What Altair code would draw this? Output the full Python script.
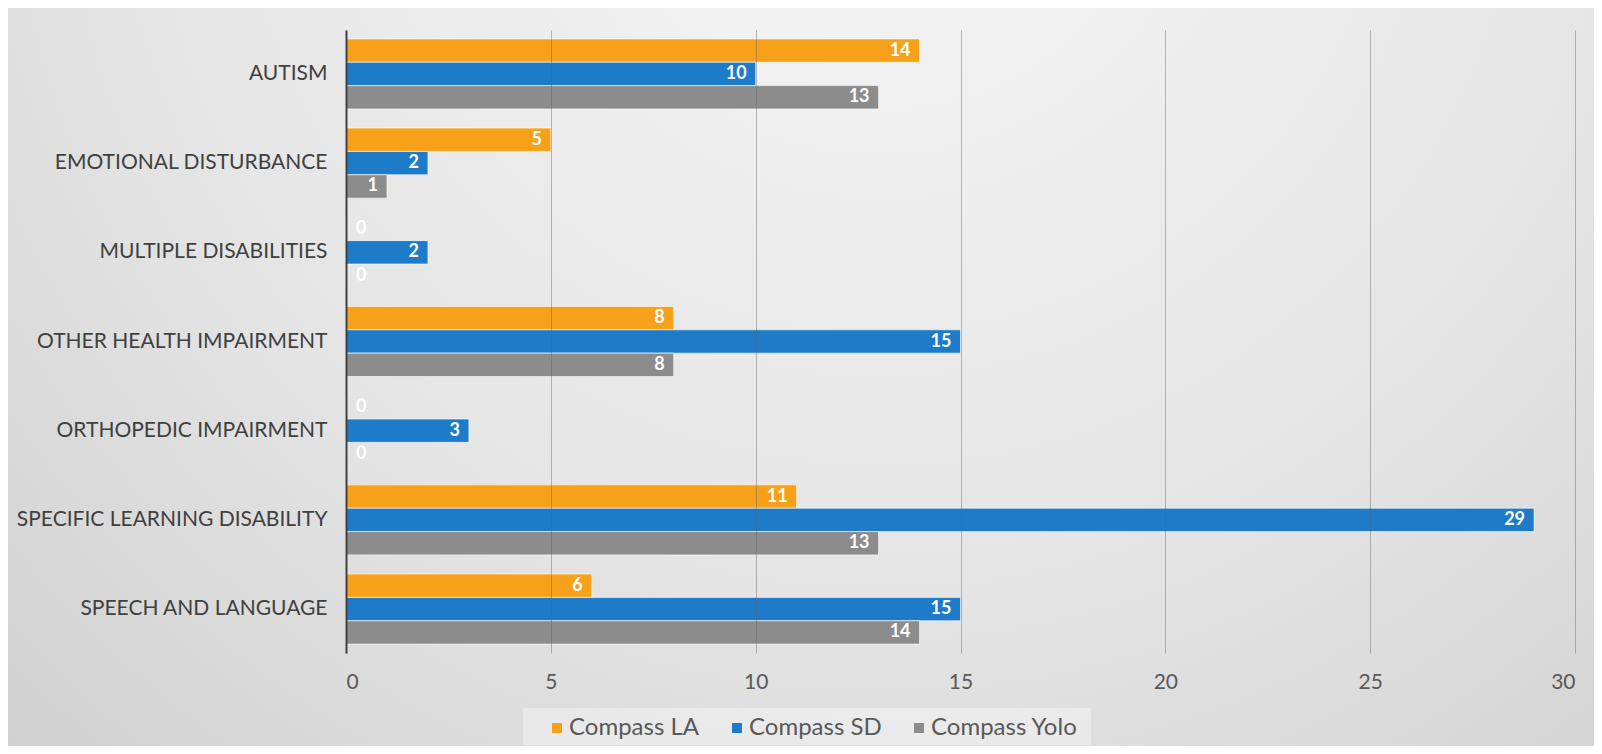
import altair as alt
import pandas as pd

categories = [
    "AUTISM",
    "EMOTIONAL DISTURBANCE",
    "MULTIPLE DISABILITIES",
    "OTHER HEALTH IMPAIRMENT",
    "ORTHOPEDIC IMPAIRMENT",
    "SPECIFIC LEARNING DISABILITY",
    "SPEECH AND LANGUAGE",
]
series = ["Compass LA", "Compass SD", "Compass Yolo"]
compass_la = [14, 5, 0, 8, 0, 11, 6]
compass_sd = [10, 2, 2, 15, 3, 29, 15]
compass_yolo = [13, 1, 0, 8, 0, 13, 14]
colors = ["#F7A11A", "#1D7BC9", "#8C8C8C"]
x_ticks = [0, 5, 10, 15, 20, 25, 30]

rows = []
for i, c in enumerate(categories):
    for s, vals in zip(series, [compass_la, compass_sd, compass_yolo]):
        rows.append({"category": c, "series": s, "value": vals[i]})
df = pd.DataFrame(rows)

W, H = 1229, 623
PL, PT, PR, PB = 338, 22, 19, 93

y_enc = alt.Y(
    "category:N",
    sort=categories,
    scale=alt.Scale(paddingInner=0.215, paddingOuter=0.1),
    axis=alt.Axis(
        title=None, labelFont="Lato", labelFontSize=21, labelColor="#404040",
        labelPadding=19, ticks=False, domain=True, domainColor="#404040",
        domainWidth=2, grid=False, labelLimit=500, zindex=1,
    ),
)
yoff = alt.YOffset("series:N", sort=series)
x_enc = alt.X(
    "value:Q",
    scale=alt.Scale(domain=[0, 30], nice=False),
    axis=alt.Axis(
        title=None, values=x_ticks, grid=True, gridColor="#606060",
        gridOpacity=0.42, gridWidth=1, domain=False, ticks=False,
        labelFont="Lato", labelFontSize=21, labelColor="#595959",
        labelPadding=18, zindex=1,
    ),
)

bg = alt.Chart(pd.DataFrame({"k": [0]})).mark_rect(
    fill={
        "gradient": "radial",
        "x1": 0.55, "y1": 0.15, "r1": 0,
        "x2": 0.55, "y2": 0.15, "r2": 0.95,
        "stops": [
            {"offset": 0, "color": "#f6f6f6"},
            {"offset": 0.5, "color": "#e5e5e5"},
            {"offset": 1, "color": "#c8c8c8"},
        ],
    }
).encode(
    x=alt.value(-PL), x2=alt.value(W + PR),
    y=alt.value(-PT), y2=alt.value(H + PB),
)

legend_box = alt.Chart(pd.DataFrame({"k": [0]})).mark_rect(
    fill="white", fillOpacity=0.35
).encode(
    x=alt.value(177), x2=alt.value(745),
    y=alt.value(678), y2=alt.value(715),
)

bars = alt.Chart(df).mark_bar(
    stroke="white", strokeWidth=1, strokeOpacity=0.6
).encode(
    y=y_enc,
    yOffset=yoff,
    x=x_enc,
    color=alt.Color(
        "series:N",
        sort=series,
        scale=alt.Scale(domain=series, range=colors),
        legend=alt.Legend(
            title=None, orient="none", legendX=199, legendY=686,
            direction="horizontal", symbolType="square", symbolSize=100,
            symbolStrokeWidth=0, labelFont="Lato", labelFontSize=24,
            labelColor="#595959", labelOffset=0, columnPadding=25, padding=0,
        ),
    ),
)

labels = alt.Chart(df).transform_filter("datum.value > 0").mark_text(
    align="right", baseline="middle", dx=-9, font="Lato", fontSize=18,
    fontWeight="bold", color="white",
).encode(y=y_enc, yOffset=yoff, x=x_enc, text="value:Q")

zeros = alt.Chart(df).transform_filter("datum.value == 0").mark_text(
    align="left", baseline="middle", dx=10, font="Lato", fontSize=18,
    fontWeight="bold", color="white",
).encode(y=y_enc, yOffset=yoff, x=x_enc, text="value:Q")

chart = alt.layer(bg, legend_box, bars, labels, zeros).properties(
    width=W, height=H,
    autosize=alt.AutoSizeParams(type="none"),
    padding={"left": PL, "top": PT, "right": PR, "bottom": PB},
).configure_view(stroke=None)

chart.save("out.html", embed_options={"renderer": "svg", "actions": False})
